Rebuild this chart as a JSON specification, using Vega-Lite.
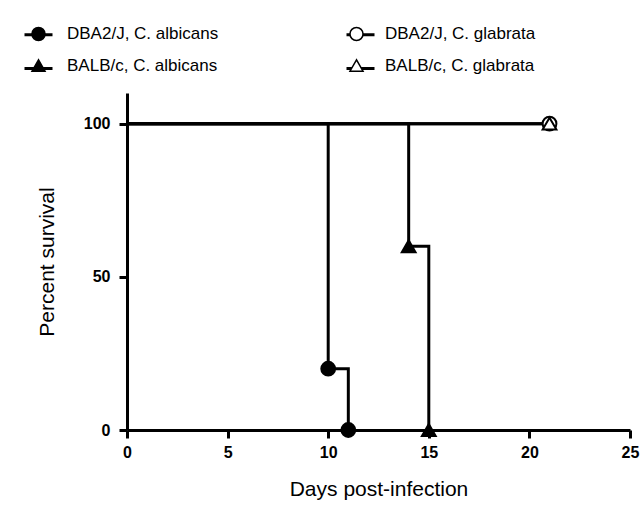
{
  "$schema": "https://vega.github.io/schema/vega-lite/v6.json",
  "autosize": {"type": "none"},
  "width": 503,
  "height": 337,
  "padding": {"left": 127, "top": 93, "right": 14, "bottom": 86},
  "background": "white",
  "config": {
    "view": {"stroke": null},
    "font": "Liberation Sans",
    "axis": {
      "domainColor": "black",
      "domainWidth": 3,
      "tickColor": "black",
      "tickWidth": 3,
      "tickSize": 8,
      "grid": false,
      "labelFont": "Liberation Sans",
      "labelFontWeight": "bold",
      "labelFontSize": 16,
      "labelColor": "black",
      "titleFont": "Liberation Sans",
      "titleFontWeight": "normal",
      "titleFontSize": 21,
      "titleColor": "black"
    }
  },
  "data": {
    "values": [
      {"series": "DBA2/J, C. albicans", "day": 0, "survival": 100},
      {"series": "DBA2/J, C. albicans", "day": 10, "survival": 20},
      {"series": "DBA2/J, C. albicans", "day": 11, "survival": 0},
      {"series": "DBA2/J, C. glabrata", "day": 0, "survival": 100},
      {"series": "DBA2/J, C. glabrata", "day": 21, "survival": 100},
      {"series": "BALB/c, C. albicans", "day": 0, "survival": 100},
      {"series": "BALB/c, C. albicans", "day": 14, "survival": 60},
      {"series": "BALB/c, C. albicans", "day": 15, "survival": 0},
      {"series": "BALB/c, C. glabrata", "day": 0, "survival": 100},
      {"series": "BALB/c, C. glabrata", "day": 21, "survival": 100}
    ]
  },
  "encoding": {
    "x": {
      "field": "day",
      "type": "quantitative",
      "scale": {"domain": [0, 25], "nice": false},
      "axis": {"values": [0, 5, 10, 15, 20, 25], "title": "Days post-infection", "labelPadding": 6, "titlePadding": 18, "labelFlush": false}
    },
    "y": {
      "field": "survival",
      "type": "quantitative",
      "scale": {"domain": [0, 110], "nice": false},
      "axis": {"values": [0, 50, 100], "title": "Percent survival", "labelPadding": 9, "titlePadding": 26}
    }
  },
  "layer": [
    {
      "mark": {"type": "line", "interpolate": "step-after", "color": "black", "strokeWidth": 3},
      "encoding": {
        "strokeDash": {
          "field": "series",
          "type": "nominal",
          "scale": {"range": [[1, 0]]},
          "legend": {
            "title": null,
            "orient": "none",
            "direction": "horizontal",
            "legendX": -104,
            "legendY": -74,
            "columns": 2,
            "columnPadding": 281,
            "rowPadding": 12,
            "symbolSize": 784,
            "symbolStrokeWidth": 3,
            "symbolStrokeColor": "black",
            "labelOffset": 0,
            "labelExpr": "''"
          }
        }
      }
    },
    {
      "transform": [{"filter": "datum.day > 0"}],
      "mark": {"type": "point", "filled": true, "stroke": "black", "strokeWidth": 2, "opacity": 1, "size": 190},
      "encoding": {
        "shape": {
          "field": "series",
          "type": "nominal",
          "scale": {
            "domain": ["DBA2/J, C. albicans", "DBA2/J, C. glabrata", "BALB/c, C. albicans", "BALB/c, C. glabrata"],
            "range": ["circle", "circle", "triangle-up", "triangle-up"]
          },
          "legend": {
            "title": null,
            "orient": "none",
            "direction": "horizontal",
            "legendX": -97,
            "legendY": -68,
            "columns": 2,
            "columnPadding": 127,
            "rowPadding": 12,
            "symbolSize": 170,
            "labelFont": "Liberation Sans",
            "labelFontSize": 17,
            "labelColor": "black",
            "labelOffset": 20,
            "encode": {
              "symbols": {
                "stroke": {"value": "black"},
                "strokeWidth": {"value": 2}
              }
            }
          }
        },
        "fill": {
          "field": "series",
          "type": "nominal",
          "scale": {
            "domain": ["DBA2/J, C. albicans", "DBA2/J, C. glabrata", "BALB/c, C. albicans", "BALB/c, C. glabrata"],
            "range": ["black", "white", "black", "white"]
          },
          "legend": null
        }
      }
    }
  ]
}
